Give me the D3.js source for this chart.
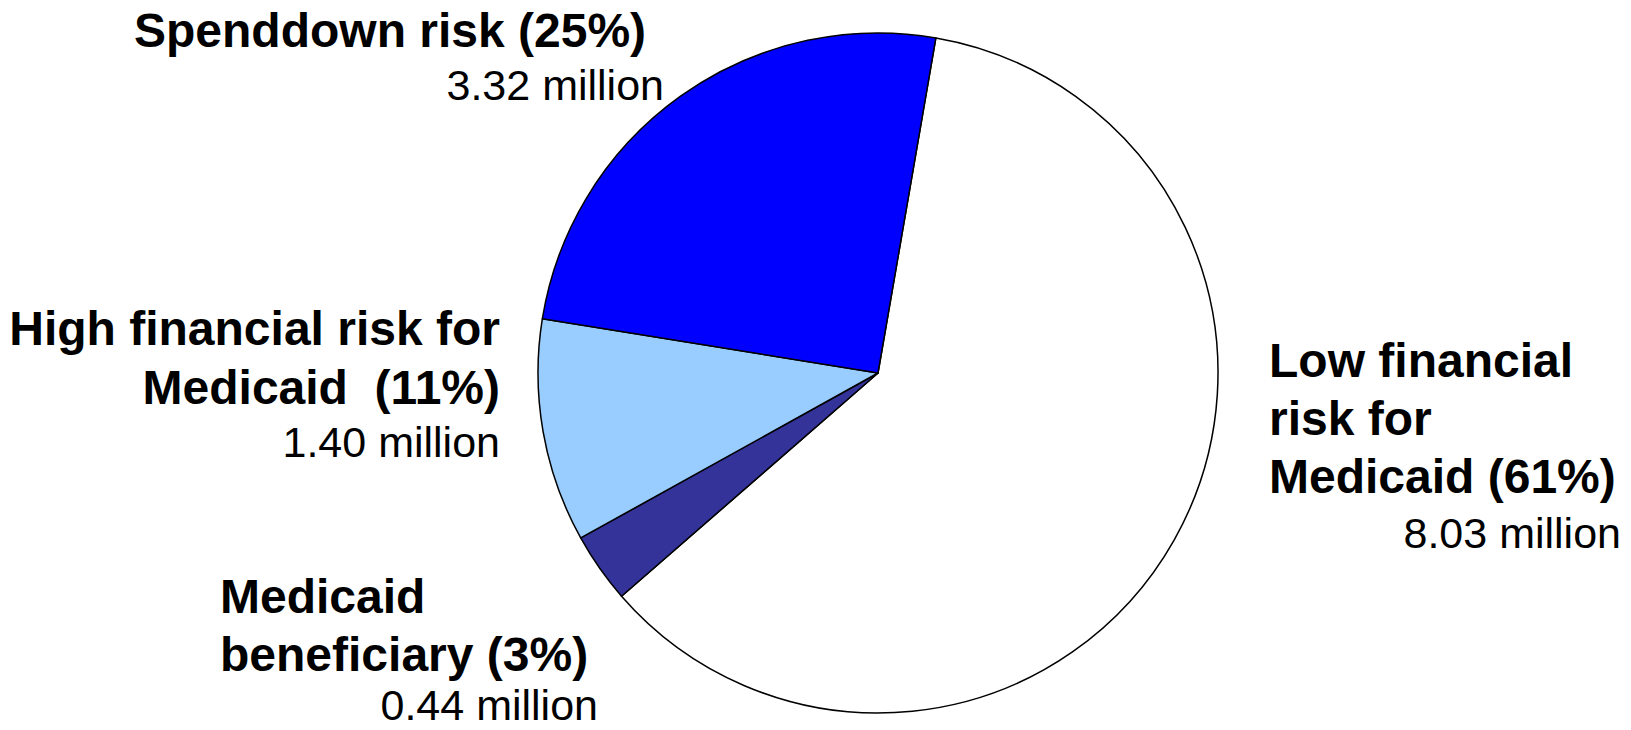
<!DOCTYPE html>
<html>
<head>
<meta charset="utf-8">
<script src="https://cdn.jsdelivr.net/npm/d3@7"></script>
<style>
  body { margin: 0; background: #fff; }
  text { font-family: Arial, "Liberation Sans", sans-serif; fill: #000; }
</style>
</head>
<body>
<div class="canvas"></div>
<script>
// data, in the order the slices run clockwise
const categories = ['Low financial risk for Medicaid', 'Medicaid beneficiary', 'High financial risk for Medicaid', 'Spenddown risk']
const millions = [8.03, 0.44, 1.40, 3.32]
const percentLabels = ['61%', '3%', '11%', '25%']
const colours = ['#ffffff', '#333399', '#99ccff', '#0000ff']

const dimensions = { width: 1631, height: 730, radius: 340 }
const centre = { x: 878, y: 373 }

const svg = d3.select('.canvas')
    .append('svg')
    .attr('width', dimensions.width)
    .attr('height', dimensions.height)

const graph = svg.append('g')
    .attr('transform', `translate(${centre.x}, ${centre.y})`)

const startAngle = 9.8 * Math.PI / 180

const pie = d3.pie()
    .sort(null)
    .startAngle(startAngle)
    .endAngle(startAngle + 2 * Math.PI)
    .value(d => d.value)

const arcPath = d3.arc()
    .outerRadius(dimensions.radius)
    .innerRadius(0)

const data = categories.map((c, i) => ({ name: c, value: millions[i], colour: colours[i] }))

graph.selectAll('path')
    .data(pie(data))
    .enter()
    .append('path')
    .attr('d', arcPath)
    .attr('fill', d => d.data.colour)
    .attr('stroke', '#000')
    .attr('stroke-width', 1.5)
    .attr('stroke-linejoin', 'round')

// label text blocks (bold lines + value line), placed relative to the pie
const labels = [
    { lines: ['Low financial', 'risk for', `Medicaid (${percentLabels[0]})`], anchor: 'start', x: 391, y: 4, gap: 58, vx: 743, vy: 175 },
    { lines: ['Medicaid', `beneficiary (${percentLabels[1]})`], anchor: 'start', x: -658, y: 240, gap: 58, vx: -280, vy: 347 },
    { lines: ['High financial risk for', `Medicaid  (${percentLabels[2]})`], anchor: 'end', x: -378, y: -28, gap: 58.5, vx: -378, vy: 84 },
    { lines: [`Spenddown risk (${percentLabels[3]})`], anchor: 'start', x: -744, y: -326, gap: 58, vx: -214, vy: -273 }
]

labels.forEach((l, i) => {
    l.lines.forEach((line, j) => {
        graph.append('text')
            .attr('x', l.x)
            .attr('y', l.y + j * l.gap)
            .attr('text-anchor', l.anchor)
            .attr('font-size', 48)
            .attr('font-weight', 'bold')
            .attr('xml:space', 'preserve')
            .style('white-space', 'pre')
            .text(line)
    })
    graph.append('text')
        .attr('x', l.vx)
        .attr('y', l.vy)
        .attr('text-anchor', 'end')
        .attr('font-size', 43)
        .text(`${millions[i].toFixed(2)} million`)
})
</script>
</body>
</html>
